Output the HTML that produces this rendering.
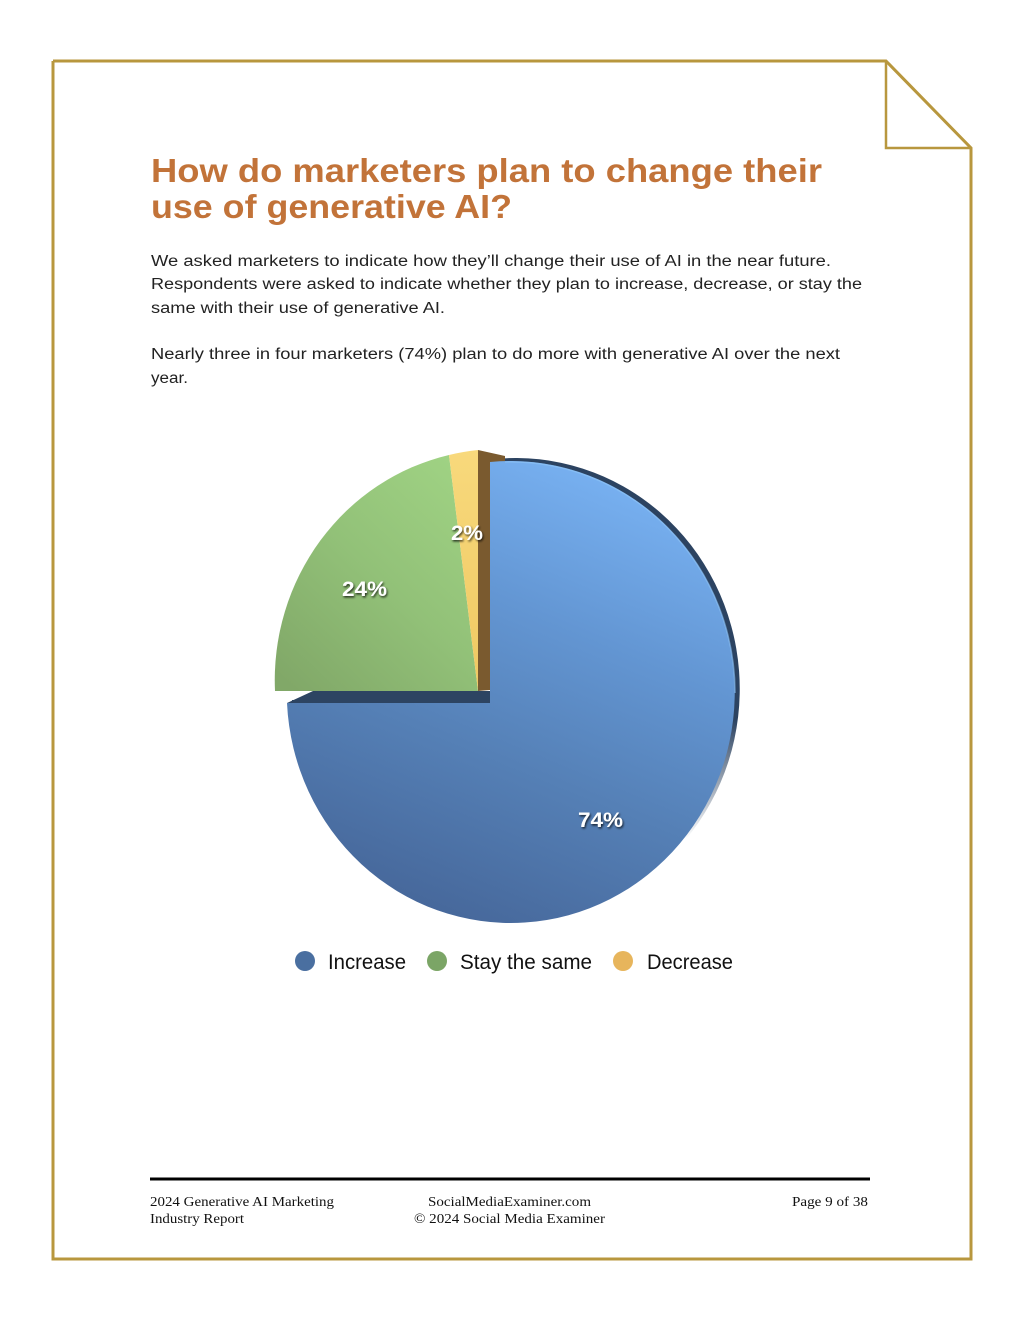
<!DOCTYPE html>
<html>
<head>
<meta charset="utf-8">
<style>
  html,body{margin:0;padding:0;background:#fff;}
  svg{display:block;}
</style>
</head>
<body>
<svg width="1020" height="1320" viewBox="0 0 1020 1320" xmlns="http://www.w3.org/2000/svg">
  <defs>
    <linearGradient id="gBlue" x1="0.75" y1="0" x2="0.35" y2="1">
      <stop offset="0" stop-color="#7ab4f5"/>
      <stop offset="0.35" stop-color="#6396d3"/>
      <stop offset="0.65" stop-color="#5580b6"/>
      <stop offset="1" stop-color="#46679a"/>
    </linearGradient>
    <linearGradient id="gGreen" x1="0.9" y1="0" x2="0.1" y2="1">
      <stop offset="0" stop-color="#a0d384"/>
      <stop offset="0.5" stop-color="#92c178"/>
      <stop offset="1" stop-color="#81a868"/>
    </linearGradient>
    <linearGradient id="gYellow" x1="0" y1="0" x2="0" y2="1">
      <stop offset="0" stop-color="#f8d97c"/>
      <stop offset="1" stop-color="#efc862"/>
    </linearGradient>
    <linearGradient id="gFade" gradientUnits="userSpaceOnUse" x1="0" y1="720" x2="0" y2="840">
      <stop offset="0" stop-color="#fff" stop-opacity="1"/>
      <stop offset="1" stop-color="#fff" stop-opacity="0"/>
    </linearGradient>
    <mask id="rimMask" maskUnits="userSpaceOnUse" x="0" y="0" width="1020" height="1320">
      <rect x="0" y="0" width="1020" height="1320" fill="url(#gFade)"/>
    </mask>
    <filter id="sh" x="-20%" y="-30%" width="150%" height="170%">
      <feDropShadow dx="1" dy="1.5" stdDeviation="1.1" flood-color="#000" flood-opacity="0.75"/>
    </filter>
  </defs>

  <!-- page border with folded corner -->
  <polyline points="53,61 886,61 971,148 971,1259 53,1259 53,61" fill="none" stroke="#b8973e" stroke-width="3"/>
  <polyline points="886,61 886,148 971,148" fill="none" stroke="#b8973e" stroke-width="2.5"/>

  <!-- title -->
  <g font-family="Liberation Sans, sans-serif" font-weight="bold" font-size="33" fill="#c27339">
    <text x="151" y="182" textLength="671" lengthAdjust="spacingAndGlyphs">How do marketers plan to change their</text>
    <text x="151" y="218" textLength="361" lengthAdjust="spacingAndGlyphs">use of generative AI?</text>
  </g>

  <!-- body -->
  <g font-family="Liberation Sans, sans-serif" font-size="15.5" fill="#222">
    <text x="151" y="266" textLength="680" lengthAdjust="spacingAndGlyphs">We asked marketers to indicate how they’ll change their use of AI in the near future.</text>
    <text x="151" y="289" textLength="711" lengthAdjust="spacingAndGlyphs">Respondents were asked to indicate whether they plan to increase, decrease, or stay the</text>
    <text x="151" y="313" textLength="294" lengthAdjust="spacingAndGlyphs">same with their use of generative AI.</text>
    <text x="151" y="359" textLength="689" lengthAdjust="spacingAndGlyphs">Nearly three in four marketers (74%) plan to do more with generative AI over the next</text>
    <text x="151" y="383" textLength="37" lengthAdjust="spacingAndGlyphs">year.</text>
  </g>

  <!-- pie -->
  <!-- navy side rim of blue -->
  <path d="M495,700 L495,459 A224,231 0 1,1 292,700 Z" fill="#2c4361" mask="url(#rimMask)"/>
  <!-- brown side of yellow slice -->
  <polygon points="478,450 505,456 505,690 490,690 478,691" fill="#7a5a2f"/>
  <!-- blue slice -->
  <path d="M490,703 L490,462 A224,231 0 1,1 287,703 Z" fill="url(#gBlue)"/>
  <path d="M505,462 A224,231 0 0,1 735,693" fill="none" stroke="#8fc4f7" stroke-width="1.5" opacity="0.6"/>
  <!-- navy band (side of blue left edge) -->
  <polygon points="287,703 313,691 490,691 490,703" fill="#2d4462"/>
  <!-- green slice -->
  <path d="M478,691 L449,455 A224,231 0 0,0 275,691 Z" fill="url(#gGreen)"/>
  <!-- yellow slice -->
  <path d="M478,691 L478,450 A224,231 0 0,0 449,455 Z" fill="url(#gYellow)"/>

  <!-- pie labels -->
  <g font-family="Liberation Sans, sans-serif" font-weight="bold" font-size="21" fill="#fff" filter="url(#sh)">
    <text x="451" y="540" textLength="32" lengthAdjust="spacingAndGlyphs">2%</text>
    <text x="342" y="596" textLength="45" lengthAdjust="spacingAndGlyphs">24%</text>
    <text x="578" y="827" textLength="45" lengthAdjust="spacingAndGlyphs">74%</text>
  </g>

  <!-- legend -->
  <circle cx="305" cy="961" r="10" fill="#4a6fa0"/>
  <circle cx="437" cy="961" r="10" fill="#7ba566"/>
  <circle cx="623" cy="961" r="10" fill="#e7b55c"/>
  <g font-family="Liberation Sans, sans-serif" font-size="21" fill="#111">
    <text x="328" y="969" textLength="78" lengthAdjust="spacingAndGlyphs">Increase</text>
    <text x="460" y="969" textLength="132" lengthAdjust="spacingAndGlyphs">Stay the same</text>
    <text x="647" y="969" textLength="86" lengthAdjust="spacingAndGlyphs">Decrease</text>
  </g>

  <!-- footer -->
  <line x1="150" y1="1179" x2="870" y2="1179" stroke="#000" stroke-width="3"/>
  <g font-family="Liberation Serif, serif" font-size="14" fill="#111">
    <text x="150" y="1206" textLength="184" lengthAdjust="spacingAndGlyphs">2024 Generative AI Marketing</text>
    <text x="150" y="1223" textLength="94" lengthAdjust="spacingAndGlyphs">Industry Report</text>
    <text x="428" y="1206" textLength="163" lengthAdjust="spacingAndGlyphs">SocialMediaExaminer.com</text>
    <text x="414" y="1223" textLength="191" lengthAdjust="spacingAndGlyphs">© 2024 Social Media Examiner</text>
    <text x="792" y="1206" textLength="76" lengthAdjust="spacingAndGlyphs">Page 9 of 38</text>
  </g>
</svg>
</body>
</html>
